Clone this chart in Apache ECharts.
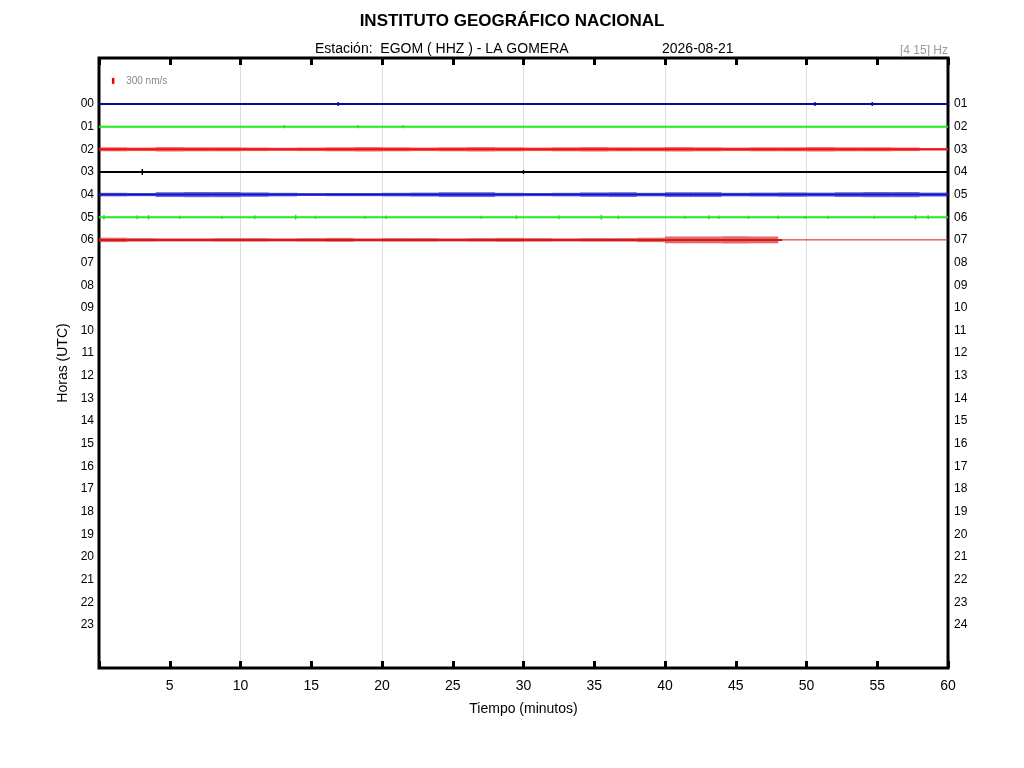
<!DOCTYPE html>
<html lang="es">
<head>
  <meta charset="UTF-8">
  <title>Helicorder EGOM</title>
  <style>
    html, body { margin: 0; padding: 0; background: #fff; }
    #main { width: 1024px; height: 768px; }
  </style>
</head>
<body>
  <div id="main"></div>
  <script src="https://cdn.jsdelivr.net/npm/echarts@6/dist/echarts.min.js"></script>
  <script>
    // horas (filas) y colores de cada traza
    var hours = [0, 1, 2, 3, 4, 5, 6];
    var traceColors = ['#0a0a96', '#22e622', '#ee1414', '#000000', '#1414c8', '#22e622', '#d41a1a'];
    // minuto donde acaba la traza gruesa (la 06 sigue fina hasta 60)
    var traceEnd = [60, 60, 60, 60, 60, 60, 48.3];

    // amplitud pico a pico (nm/s) por tramo de 2 minutos, leida a ojo
    var BIN = 2;
    var amp02 = [200, 180, 220, 200, 200, 180, 160, 180, 200, 220, 200, 180, 200, 220, 200,
                 180, 200, 220, 200, 200, 220, 200, 180, 200, 200, 220, 200, 200, 180, 120];
    var amp04 = [180, 160, 240, 260, 260, 220, 180, 140, 160, 160, 180, 200, 240, 240, 180,
                 160, 180, 220, 240, 180, 240, 240, 180, 200, 220, 200, 240, 260, 260, 200];
    var amp06 = [220, 180, 160, 160, 180, 180, 160, 180, 200, 160, 180, 180, 160, 180, 200,
                 180, 160, 180, 180, 220, 340, 340, 360, 340, 0, 0, 0, 0, 0, 0];

    // picos aislados: [minuto, amplitud pico a pico nm/s]
    var spikes00 = [[16.9, 200], [50.6, 200], [54.65, 200]];
    var spikes01 = [[13.1, 160], [18.3, 160], [21.5, 160]];
    var spikes03 = [[3.06, 300], [30.0, 200]];
    var spikes05 = [[0.35, 220], [2.7, 200], [3.5, 220], [5.7, 160], [8.7, 160], [11.0, 200],
                    [13.9, 240], [15.3, 160], [18.8, 160], [20.3, 180], [27.0, 160], [29.5, 200],
                    [32.5, 200], [35.5, 240], [36.7, 180], [41.4, 160], [43.1, 200], [43.8, 180],
                    [45.9, 160], [48.0, 180], [49.9, 160], [51.5, 160], [54.8, 160], [57.7, 220],
                    [58.6, 200]];

    // escala: 300 nm/s
    var scaleBar = [[1.0, -1.02, 300]];

    var xTicks = [5, 10, 15, 20, 25, 30, 35, 40, 45, 50, 55, 60];
    var hourLabels = [0, 1, 2, 3, 4, 5, 6, 7, 8, 9, 10, 11, 12, 13, 14, 15, 16, 17, 18, 19, 20, 21, 22, 23];

    var ROW_PX = 22.65;
    var NM_TO_ROW = 6 / ROW_PX / 300; // 300 nm/s ~ 6 px

    function pad(n) { return (n < 10 ? '0' : '') + n; }

    window.onload = function () {
      var chart = echarts.init(document.getElementById('main'));
      var font = 'Liberation Sans, Arial, sans-serif';

      var series = [];

      // trazas base
      hours.forEach(function (h, i) {
        series.push({
          type: 'line', xAxisIndex: 0, yAxisIndex: 0, symbol: 'none', silent: true,
          data: [[0, h], [traceEnd[i], h]],
          lineStyle: { color: traceColors[i], width: 2 }, z: 3
        });
        if (traceEnd[i] < 60) {
          series.push({
            type: 'line', xAxisIndex: 0, yAxisIndex: 0, symbol: 'none', silent: true,
            data: [[traceEnd[i], h], [60, h]],
            lineStyle: { color: traceColors[i], width: 1 }, z: 3
          });
        }
      });

      // ruido por tramos
      function binSeries(amps, idx) {
        var data = amps.map(function (a, k) { return [k * BIN, k * BIN + BIN, hours[idx], a]; })
          .filter(function (d) { return d[3] > 0; });
        return {
          type: 'custom', xAxisIndex: 0, yAxisIndex: 0, silent: true, z: 4,
          data: data,
          renderItem: function (params, api) {
            var h = api.value(2), half = api.value(3) * NM_TO_ROW / 2;
            var p0 = api.coord([api.value(0), h - half]);
            var p1 = api.coord([api.value(1), h + half]);
            return {
              type: 'rect',
              shape: { x: p0[0], y: Math.min(p0[1], p1[1]), width: p1[0] - p0[0], height: Math.abs(p1[1] - p0[1]) },
              style: { fill: traceColors[idx], opacity: 0.65 }
            };
          }
        };
      }
      series.push(binSeries(amp02, 2));
      series.push(binSeries(amp04, 4));
      series.push(binSeries(amp06, 6));

      // picos aislados
      function spikeSeries(list, idx) {
        return {
          type: 'custom', xAxisIndex: 0, yAxisIndex: 0, silent: true, z: 4,
          data: list.map(function (s) { return [s[0], hours[idx], s[1]]; }),
          renderItem: function (params, api) {
            var h = api.value(1), half = api.value(2) * NM_TO_ROW / 2;
            var a = api.coord([api.value(0), h - half]);
            var b = api.coord([api.value(0), h + half]);
            return {
              type: 'line',
              shape: { x1: a[0], y1: a[1], x2: b[0], y2: b[1] },
              style: { stroke: traceColors[idx], lineWidth: 1.5 }
            };
          }
        };
      }
      series.push(spikeSeries(spikes00, 0));
      series.push(spikeSeries(spikes01, 1));
      series.push(spikeSeries(spikes03, 3));
      series.push(spikeSeries(spikes05, 5));

      // barra de escala
      series.push({
        type: 'custom', xAxisIndex: 0, yAxisIndex: 0, silent: true, z: 5,
        data: scaleBar,
        renderItem: function (params, api) {
          var h = api.value(1), half = api.value(2) * NM_TO_ROW / 2;
          var a = api.coord([api.value(0), h - half]);
          var b = api.coord([api.value(0), h + half]);
          return {
            type: 'group',
            children: [
              { type: 'line', shape: { x1: a[0], y1: a[1], x2: b[0], y2: b[1] },
                style: { stroke: '#e00', lineWidth: 2.5 } },
              { type: 'text', x: a[0] + 13, y: (a[1] + b[1]) / 2,
                style: { text: api.value(2) + ' nm/s', fill: '#888', fontSize: 10, fontFamily: font, verticalAlign: 'middle' } }
            ]
          };
        }
      });

      var tickStyle = { show: true, inside: true, length: 7, lineStyle: { color: '#000', width: 3 } };
      // lineas de rejilla cada 10 min, sin las de los bordes (0 y 60)
      var gridColors = ['rgba(0,0,0,0)', '#dcdcdc', '#dcdcdc', '#dcdcdc', '#dcdcdc', '#dcdcdc', 'rgba(0,0,0,0)'];

      var option = {
        animation: false,
        backgroundColor: '#fff',
        textStyle: { fontFamily: font },
        title: [
          { text: 'INSTITUTO GEOGRÁFICO NACIONAL', left: 'center', top: 8,
            textStyle: { fontSize: 17, fontWeight: 'bold', color: '#000', fontFamily: font } },
          { text: 'Estación:  EGOM ( HHZ ) - LA GOMERA', left: 310, top: 37,
            textStyle: { fontSize: 14, fontWeight: 'normal', color: '#000', fontFamily: font } },
          { text: '2026-08-21', left: 657, top: 37,
            textStyle: { fontSize: 14, fontWeight: 'normal', color: '#000', fontFamily: font } },
          { text: '[4 15] Hz', right: 71, top: 40,
            textStyle: { fontSize: 12, fontWeight: 'normal', color: '#999', fontFamily: font } }
        ],
        grid: {
          left: 99, right: 76, top: 58, bottom: 100,
          show: true, borderColor: '#000', borderWidth: 3, backgroundColor: '#fff'
        },
        xAxis: [
          {
            type: 'value', min: 0, max: 60, interval: 5, position: 'bottom',
            name: 'Tiempo (minutos)', nameLocation: 'middle', nameGap: 34,
            nameTextStyle: { fontSize: 14, color: '#000' },
            axisLine: { show: false, onZero: false },
            axisTick: tickStyle,
            axisLabel: { fontSize: 14, color: '#000', margin: 11,
              formatter: function (v) { return xTicks.indexOf(v) >= 0 ? String(v) : ''; } },
            splitLine: { show: false }
          },
          {
            type: 'value', min: 0, max: 60, interval: 5, position: 'top',
            axisLine: { show: false, onZero: false },
            axisTick: tickStyle,
            axisLabel: { show: false },
            splitLine: { show: false }
          },
          {
            type: 'value', min: 0, max: 60, interval: 10, position: 'bottom',
            axisLine: { show: false, onZero: false }, axisTick: { show: false }, axisLabel: { show: false },
            splitLine: { show: true, lineStyle: { color: gridColors, width: 1 } }
          }
        ],
        yAxis: [
          {
            type: 'value', inverse: true, min: -2.03, max: 24.9, position: 'left',
            name: 'Horas (UTC)', nameLocation: 'middle', nameGap: 28,
            nameTextStyle: { fontSize: 14, color: '#000' },
            axisLine: { show: false, onZero: false },
            axisTick: { show: false },
            axisLabel: { customValues: hourLabels, fontSize: 12, color: '#000', margin: 5,
              formatter: function (v) { return pad(v); } },
            splitLine: { show: false }
          },
          {
            type: 'value', inverse: true, min: -2.03, max: 24.9, position: 'right',
            axisLine: { show: false, onZero: false },
            axisTick: { show: false },
            axisLabel: { customValues: hourLabels, fontSize: 12, color: '#000', margin: 6,
              formatter: function (v) { return pad(v + 1); } },
            splitLine: { show: false }
          }
        ],
        series: series
      };

      chart.setOption(option);
    };
  </script>
</body>
</html>
